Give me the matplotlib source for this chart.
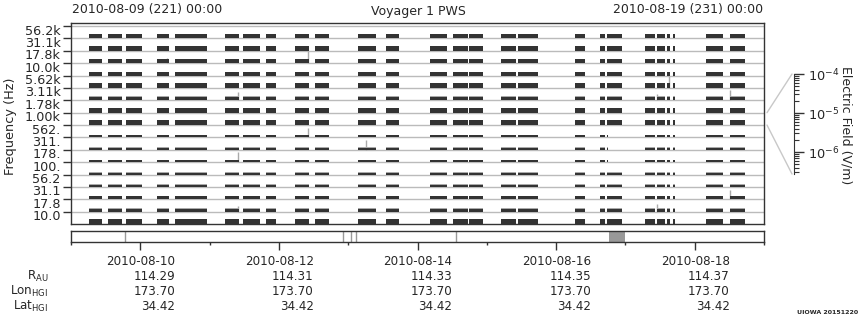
import matplotlib
matplotlib.use('Agg')
import matplotlib.pyplot as plt
import matplotlib.dates as mdates
from matplotlib.patches import ConnectionPatch
from matplotlib.transforms import blended_transform_factory, ScaledTranslation
from matplotlib.ticker import LogLocator, NullFormatter, FixedLocator
import numpy as np
from datetime import datetime

plt.rcParams['font.family'] = ['DejaVu Sans']

# ---------------- data ----------------
t_start = '2010-08-09 00:00'
t_end = '2010-08-19 00:00'

freq_labels = ['10.0', '17.8', '31.1', '56.2', '100.', '178.', '311.', '562.',
               '1.00k', '1.78k', '3.11k', '5.62k', '10.0k', '17.8k', '31.1k', '56.2k']

seg_start = ['2010-08-09 06:14', '2010-08-09 12:49', '2010-08-09 19:03', '2010-08-10 05:47',
             '2010-08-10 12:01', '2010-08-11 05:20', '2010-08-11 11:34', '2010-08-11 19:32',
             '2010-08-12 05:34', '2010-08-12 12:30', '2010-08-13 03:23', '2010-08-13 13:05',
             '2010-08-14 04:19', '2010-08-14 12:17', '2010-08-14 17:50', '2010-08-15 04:55',
             '2010-08-15 10:48', '2010-08-16 06:33', '2010-08-16 15:12', '2010-08-16 17:38',
             '2010-08-17 06:47', '2010-08-17 10:57', '2010-08-17 14:24', '2010-08-17 16:29',
             '2010-08-18 03:55', '2010-08-18 12:13']
seg_end = ['2010-08-09 10:44', '2010-08-09 17:40', '2010-08-10 00:36', '2010-08-10 09:56',
           '2010-08-10 23:06', '2010-08-11 10:11', '2010-08-11 17:27', '2010-08-11 23:00',
           '2010-08-12 10:25', '2010-08-12 17:21', '2010-08-13 09:37', '2010-08-13 17:35',
           '2010-08-14 10:13', '2010-08-14 17:29', '2010-08-14 22:41', '2010-08-15 10:06',
           '2010-08-15 17:44', '2010-08-16 10:01', '2010-08-16 16:56', '2010-08-16 22:49',
           '2010-08-17 10:15', '2010-08-17 13:42', '2010-08-17 15:27', '2010-08-17 17:11',
           '2010-08-18 09:47', '2010-08-18 17:25']

# typical field level per channel (V/m), and upper (lighter) level
level = [3.0e-6, 9.9e-7, 1.6e-6, 8.2e-7, 6.2e-7, 7.1e-7, 6.2e-7, 7.1e-7,
         2.6e-6, 2.6e-6, 1.15e-6, 2.6e-6, 1.6e-6, 1.6e-6, 2.6e-6, 2.6e-6]
peak = [3.0e-6, 1.85e-6, 1.6e-6, 1.32e-6, 9.9e-7, 7.1e-7, 8.2e-7, 7.1e-7,
        2.6e-6, 2.6e-6, 1.85e-6, 2.6e-6, 1.6e-6, 1.6e-6, 2.6e-6, 2.6e-6]

# channels whose data stop early in one segment
short_channels = [5, 6, 7]
short_segment = 19
short_end = '2010-08-16 18:00'

# isolated spikes: time, channel, field (V/m)
spike_time = ['2010-08-10 09:15', '2010-08-11 09:50', '2010-08-11 09:50', '2010-08-11 09:50',
              '2010-08-12 10:05', '2010-08-12 10:05', '2010-08-13 06:10', '2010-08-17 10:57',
              '2010-08-17 10:57', '2010-08-17 15:06', '2010-08-18 12:13', '2010-08-18 12:13']
spike_chan = [13, 10, 5, 1, 13, 7, 6, 10, 1, 11, 10, 2]
spike_val = [2.6e-6, 1.25e-5, 2.8e-5, 4.8e-6, 1.0e-4, 2.0e-5, 2.8e-5, 4.8e-6,
             8.9e-6, 7.3e-5, 3.2e-5, 2.0e-5]

# timeline strip events
event_lines = ['2010-08-09 18:42', '2010-08-12 22:12', '2010-08-13 00:58',
               '2010-08-13 02:42', '2010-08-14 13:20']
event_box = ['2010-08-16 18:19', '2010-08-16 23:52']

tick_dates = ['2010-08-10', '2010-08-12', '2010-08-14', '2010-08-16', '2010-08-18']
r_au = ['114.29', '114.31', '114.33', '114.35', '114.37']
lon_hgi = ['173.70', '173.70', '173.70', '173.70', '173.70']
lat_hgi = ['34.42', '34.42', '34.42', '34.42', '34.42']

e_min_log = -6.564
e_max_log = -4.0

# ---------------- helpers ----------------
def tnum(s):
    fmt = '%Y-%m-%d %H:%M' if ' ' in s else '%Y-%m-%d'
    return mdates.date2num(datetime.strptime(s, fmt))

def band_h(v):
    return float(np.clip((np.log10(v) - e_min_log) / (e_max_log - e_min_log), 0, 1))

W, H = 860, 320
fig = plt.figure(figsize=(W / 100, H / 100), dpi=100)

def fx(px):
    return px / W

def fy(py):
    return 1 - py / H

dark = '#333333'
light = '#aaaaaa'
gridc = '#bbbbbb'
txtc = '#262626'

ax = fig.add_axes([fx(71), fy(224), fx(764) - fx(71), fy(23) - fy(224)])
x0, x1 = tnum(t_start), tnum(t_end)
ax.set_xlim(x0, x1)
ax.set_ylim(0, 16.25)

for k in range(1, 17):
    ax.axhline(k, color=gridc, lw=1, zorder=1)

starts = [tnum(s) for s in seg_start]
ends = [tnum(s) for s in seg_end]
for ch in range(16):
    bars = []
    for i, (a, b) in enumerate(zip(starts, ends)):
        if ch in short_channels and i == short_segment:
            b = tnum(short_end)
        bars.append((a, b - a))
    hp = band_h(peak[ch])
    hl = band_h(level[ch])
    if hp > hl:
        ax.broken_barh(bars, (ch, hp), facecolors=light, edgecolor='none', zorder=2)
    ax.broken_barh(bars, (ch, hl), facecolors=dark, edgecolor='none', zorder=3)

for t, ch, v in zip(spike_time, spike_chan, spike_val):
    ax.vlines(tnum(t), ch, ch + band_h(v), color=light, lw=1, zorder=2)

ax.set_yticks(np.arange(1, 17))
ax.set_yticklabels(freq_labels, fontsize=9.2, color=txtc)
ax.tick_params(axis='y', length=6, width=1, color=dark, pad=1.5)
shift = ScaledTranslation(0, -3.5 / 100, fig.dpi_scale_trans)
for lab in ax.get_yticklabels():
    lab.set_transform(lab.get_transform() + shift)
ax.set_xticks([])
for s in ax.spines.values():
    s.set_color(dark)
    s.set_linewidth(1)

# timeline strip
sx = fig.add_axes([fx(71), fy(242), fx(764) - fx(71), fy(231) - fy(242)])
sx.set_xlim(x0, x1)
sx.set_ylim(0, 1)
sx.set_yticks([])
for t in event_lines:
    sx.axvline(tnum(t), color='#999999', lw=1)
sx.axvspan(tnum(event_box[0]), tnum(event_box[1]), color='#999999', lw=0)
for s in sx.spines.values():
    s.set_color(dark)
    s.set_linewidth(1)
sx.xaxis.set_major_locator(FixedLocator([tnum(d) for d in tick_dates]))
sx.xaxis.set_minor_locator(mdates.DayLocator())
sx.set_xticklabels([])
sx.tick_params(axis='x', which='major', length=6, width=1, color=dark)
sx.tick_params(axis='x', which='minor', length=2.5, width=1, color=dark)

# annotation rows below
tr = blended_transform_factory(sx.transData, fig.transFigure) + \
    ScaledTranslation(35 / 100, 0, fig.dpi_scale_trans)
rows = [(tick_dates, 261.5), (r_au, 276.5), (lon_hgi, 291.5), (lat_hgi, 306.5)]
for vals, ypx in rows:
    for d, v in zip(tick_dates, vals):
        fig.text(tnum(d), fy(ypx), v, transform=tr, ha='right', va='center',
                 fontsize=8.6, color=txtc)

fig.text(fx(48), fy(276.5), r'R$_{\mathrm{AU}}$', ha='right', va='center', fontsize=8.6, color=txtc)
fig.text(fx(48), fy(291.5), r'Lon$_{\mathrm{HGI}}$', ha='right', va='center', fontsize=8.6, color=txtc)
fig.text(fx(48), fy(306.5), r'Lat$_{\mathrm{HGI}}$', ha='right', va='center', fontsize=8.6, color=txtc)

# colour scale axis
cax = fig.add_axes([fx(790), fy(174), fx(794) - fx(790), fy(74) - fy(174)])
cax.set_yscale('log')
cax.set_ylim(10 ** e_min_log, 10 ** e_max_log)
cax.patch.set_alpha(0)
for side in ['left', 'top', 'bottom']:
    cax.spines[side].set_visible(False)
cax.spines['right'].set_color(dark)
cax.set_xticks([])
cax.yaxis.tick_right()
cax.yaxis.set_major_locator(LogLocator(base=10))
cax.yaxis.set_minor_locator(LogLocator(base=10, subs=np.arange(2, 10)))
cax.yaxis.set_minor_formatter(NullFormatter())
cax.tick_params(axis='y', which='major', length=7, width=1, color=dark, labelsize=9.3, pad=3,
                labelcolor=txtc)
cax.tick_params(axis='y', which='minor', length=3.5, width=0.8, color=dark)

for yd, yc in [(9, 10 ** e_max_log), (8, 10 ** e_min_log)]:
    cp = ConnectionPatch(xyA=(1 + 3 / 693, yd), coordsA=ax.get_yaxis_transform(),
                         xyB=(0.5, yc), coordsB=cax.get_yaxis_transform(),
                         color='#c8c8c8', lw=1)
    fig.add_artist(cp)

# texts
fig.text(fx(72), fy(9), '2010-08-09 (221) 00:00', ha='left', va='center', fontsize=9.0, color=txtc)
fig.text(fx(763), fy(9), '2010-08-19 (231) 00:00', ha='right', va='center', fontsize=9.0, color=txtc)
fig.text(fx(418), fy(11), 'Voyager 1 PWS', ha='center', va='center', fontsize=9.0, color=txtc)
fig.text(fx(11), fy(126), 'Frequency (Hz)', rotation=90, ha='center', va='center', fontsize=9.3, color=txtc)
fig.text(fx(846), fy(125), 'Electric Field (V/m)', rotation=270, ha='center', va='center', fontsize=9.0, color=txtc)
fig.text(fx(858), fy(312), 'UIOWA 20151220', ha='right', va='center', fontsize=4.5, weight='bold', color=txtc)

fig.savefig('out.png', dpi=100)
